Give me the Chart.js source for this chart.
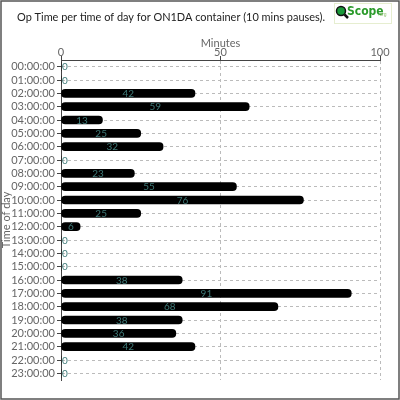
<!DOCTYPE html>
<html><head><meta charset="utf-8">
<script src="https://cdn.jsdelivr.net/npm/chart.js@4/dist/chart.umd.min.js"></script>
<style>html,body{margin:0;padding:0;background:#fff}#wrap{width:400px;height:400px;position:relative}</style>
</head><body><div id="wrap"><canvas id="c" width="400" height="400"></canvas></div>
<script>
const hours = ["00:00:00","01:00:00","02:00:00","03:00:00","04:00:00","05:00:00","06:00:00","07:00:00","08:00:00","09:00:00","10:00:00","11:00:00","12:00:00","13:00:00","14:00:00","15:00:00","16:00:00","17:00:00","18:00:00","19:00:00","20:00:00","21:00:00","22:00:00","23:00:00"];
const minutes = [0,0,42,59,13,25,32,0,23,55,76,25,6,0,0,0,38,91,68,38,36,42,0,0];
const titleText = "Op Time per time of day for ON1DA container (10 mins pauses).";
const xTitle = "Minutes";
const yTitle = "Time of day";

const FONT = "Lato, 'Open Sans', sans-serif";

const decor = {
  id: 'decor',
  afterDraw(chart) {
    const ctx = chart.ctx;
    ctx.save();
    // frame
    ctx.strokeStyle = '#555';
    ctx.lineWidth = 1.5;
    ctx.strokeRect(1, 1, 398, 398);
    // title, fitted to the reference width
    ctx.fillStyle = '#222';
    let fs = 13;
    ctx.font = fs + "px " + FONT;
    const w = ctx.measureText(titleText).width;
    fs = Math.min(13, fs * 308 / w);
    ctx.font = fs.toFixed(2) + "px " + FONT;
    ctx.textBaseline = 'middle';
    ctx.textAlign = 'left';
    ctx.fillText(titleText, 17, 17);
    // logo
    ctx.strokeStyle = '#e6eed0';
    ctx.lineWidth = 1;
    ctx.strokeRect(334.5, 3.5, 57, 20);
    ctx.fillStyle = '#1a9a3a';
    ctx.beginPath(); ctx.arc(341, 11, 4.5, 0, Math.PI*2); ctx.fill();
    ctx.strokeStyle = '#111'; ctx.lineWidth = 1.5;
    ctx.beginPath(); ctx.arc(341, 11, 4.5, 0, Math.PI*2); ctx.stroke();
    ctx.lineWidth = 2.5;
    ctx.beginPath(); ctx.moveTo(344.5, 14.5); ctx.lineTo(348, 18); ctx.stroke();
    ctx.fillStyle = '#2a9a2a';
    ctx.font = "bold 12px 'Liberation Sans Narrow', 'DejaVu Sans Condensed', sans-serif";
    ctx.fillText("Scope", 347, 12);
    ctx.fillStyle = '#8fbf6f';
    ctx.font = "5px sans-serif";
    ctx.fillText(".org", 378, 15);
    // value labels
    const meta = chart.getDatasetMeta(0);
    ctx.fillStyle = '#3f7a78';
    ctx.font = "10px " + FONT;
    ctx.textAlign = 'center';
    meta.data.forEach((bar, i) => {
      const v = minutes[i];
      let x = (bar.x + bar.base) / 2;
      if (v === 0) x = bar.base + 4;
      ctx.fillText(String(v), x, bar.y + 0.5);
    });
    ctx.restore();
  }
};

new Chart(document.getElementById('c'), {
  type: 'bar',
  data: {
    labels: hours,
    datasets: [{
      data: minutes,
      backgroundColor: '#000',
      barThickness: 8,
      borderRadius: 4,
      borderSkipped: false
    }]
  },
  options: {
    indexAxis: 'y',
    responsive: false,
    animation: false,
    devicePixelRatio: 1,
    layout: { padding: { top: 37, left: 0, right: 20, bottom: 20 } },
    plugins: { legend: { display: false }, tooltip: { enabled: false }, title: { display: false } },
    scales: {
      x: {
        position: 'top',
        min: 0, max: 100,
        ticks: { stepSize: 50, color: '#666', font: { family: FONT, size: 11 }, padding: -3 },
        grid: { color: '#bbb', tickLength: 4, tickColor: '#444', drawTicks: true },
        border: { color: '#444', dash: [3,3] },
        title: { display: true, text: xTitle, color: '#666', font: { family: FONT, size: 11 }, padding: 0 },
        afterFit(s) { s.height = 23; }
      },
      y: {
        ticks: { color: '#666', font: { family: FONT, size: 11 }, padding: 2, autoSkip: false },
        grid: { color: '#bbb', offset: false, tickLength: 4, tickColor: '#444' },
        border: { color: '#444', dash: [3,3] },
        title: { display: true, text: yTitle, color: '#666', font: { family: FONT, size: 11 }, padding: 0 },
        afterFit(s) { s.width = 61; }
      }
    }
  },
  plugins: [decor]
});
</script></body></html>
